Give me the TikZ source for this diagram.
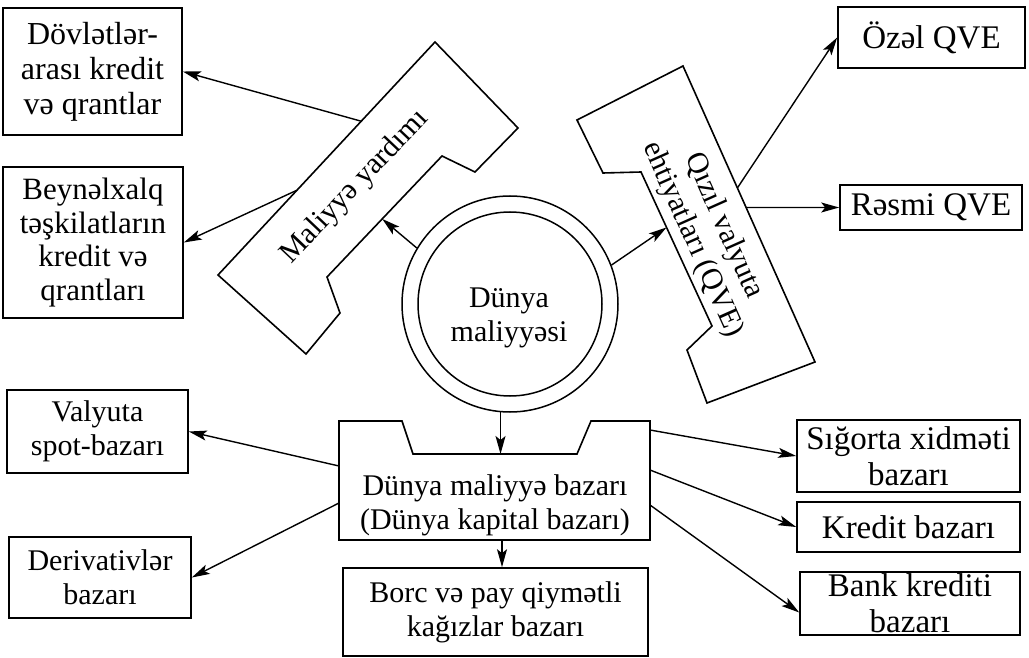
\documentclass[tikz,border=0pt]{standalone}
\usepackage{fontspec}
\setmainfont{Liberation Serif}
\usetikzlibrary{arrows.meta,calc}
\begin{document}
\begin{tikzpicture}[x=1pt,y=-1pt,
  every node/.style={font=\fontsize{30}{34}\selectfont},
  big/.style={font=\fontsize{33}{36}\selectfont},
  mid/.style={font=\fontsize{32}{35}\selectfont},
  box/.style={draw,line width=1.6pt,align=center,inner sep=0pt},
  outline/.style={draw,line width=1.6pt},
  ring/.style={draw,circle,line width=1.5pt,inner sep=0pt},
  txt/.style={align=center,inner sep=0pt},
  link/.style={line width=1.4pt,-{Stealth[length=18pt,width=10pt,inset=4pt]}}]
\useasboundingbox (0,0) rectangle (1029,658);

% outer boxes
\node[box,mid,minimum width=179pt,minimum height=127pt] (b1) at (92.5,71.5) {Dövlətlər-\\arası kredit\\və qrantlar};
\node[box,font=\fontsize{31}{33.5}\selectfont,minimum width=180pt,minimum height=151pt] (b2) at (93,242.5) {Beynəlxalq\\təşkilatların\\kredit və\\qrantları};
\node[box,minimum width=181pt,minimum height=83pt] (valyuta) at (97.5,431.5) {Valyuta\\spot-bazarı};
\node[box,minimum width=182pt,minimum height=81pt] (deriv) at (100,577.5) {Derivativlər\\bazarı};
\node[box,minimum width=305pt,minimum height=88pt] (borc) at (495.5,612) {Borc və pay qiymətli\\kağızlar bazarı};
\node[box,big,minimum width=187pt,minimum height=61pt] (ozel) at (931.5,37.5) {Özəl QVE};
\node[box,big,minimum width=182pt,minimum height=45pt] (rasmi) at (931,207.5) {Rəsmi QVE};
\node[box,big,minimum width=223pt,minimum height=72pt] (sigorta) at (908.5,456) {Sığorta xidməti\\bazarı};
\node[box,big,minimum width=223pt,minimum height=50pt] (kredit) at (908.5,527) {Kredit bazarı};
\node[box,big,minimum width=220pt,minimum height=63pt] (bank) at (910,603.5) {Bank krediti\\bazarı};

% central double ring
\node[ring,minimum size=216pt] (outer) at (510,304) {};
\node[ring,minimum size=184pt] (inner) at (510,304) {};
\node[txt] (dm) at (509,318) {Dünya\\maliyyəsi};

% financial aid bracket
\coordinate (mA) at (435,42);
\coordinate (mB) at (518,128);
\coordinate (mC) at (475,172);
\coordinate (mD) at (442,156);
\coordinate (mE) at (327,277);
\coordinate (mF) at (340,313);
\coordinate (mG) at (306,354);
\coordinate (mH) at (218,275);
\draw[outline] (mA) -- (mB) -- (mC) -- (mD) -- (mE) -- (mF) -- (mG) -- (mH) -- cycle;
\node[txt,rotate=46.5] (my) at (355,187) {Maliyyə yardımı};

% gold and currency reserves bracket
\coordinate (qA) at (683,66);
\coordinate (qB) at (577,120);
\coordinate (qC) at (603,173);
\coordinate (qD) at (641,172);
\coordinate (qE) at (712,326);
\coordinate (qF) at (687,350);
\coordinate (qG) at (707,403);
\coordinate (qH) at (815,362);
\draw[outline] (qA) -- (qB) -- (qC) -- (qD) -- (qE) -- (qF) -- (qG) -- (qH) -- cycle;
\node[txt,rotate=-66] (qv) at (708,233) {Qızıl valyuta\\ehtiyatları (QVE)};

% world financial market block
\coordinate (fA) at (339,421);
\coordinate (fB) at (402,421);
\coordinate (fC) at (413,454);
\coordinate (fD) at (577,454);
\coordinate (fE) at (591,421);
\coordinate (fF) at (650,421);
\coordinate (fG) at (650,540);
\coordinate (fH) at (339,540);
\draw[outline] (fA) -- (fB) -- (fC) -- (fD) -- (fE) -- (fF) -- (fG) -- (fH) -- cycle;
\node[txt] (fm) at (495,505) {Dünya maliyyə bazarı\\(Dünya kapital bazarı)};

% connector end points on the brackets
\coordinate (ml1) at ($(mH)!0.66!(mA)$);
\coordinate (ml2) at ($(mH)!0.364!(mA)$);
\coordinate (mi) at ($(mD)!0.52!(mE)$);
\coordinate (qo1) at ($(qA)!0.412!(qH)$);
\coordinate (qo2) at ($(qA)!0.478!(qH)$);
\coordinate (qi) at ($(qD)!0.36!(qE)$);
\coordinate (fb) at (502,540);
\coordinate (fr1) at (650,430);
\coordinate (fr2) at (650,470);
\coordinate (fr3) at (650,505);
\coordinate (fl1) at (339,466);
\coordinate (fl2) at (339,503);

% connectors
\draw[link] (ml1) -- (b1.east);
\draw[link] (ml2) -- (b2.east);
\draw[link] (outer.149.5) -- (mi);
\draw[link] (outer.21.7) -- (qi);
\draw[link] (qo1) -- (ozel.west);
\draw[link] (qo2) -- (rasmi.west);
\draw[link] (outer.-95) -- (outer.-95 |- fC);
\draw[link] (fb) -- (fb |- borc.north);
\draw[link] (fl1) -- (valyuta.east);
\draw[link] (fl2) -- (deriv.east);
\draw[link] (fr1) -- (sigorta.west);
\draw[link] (fr2) -- (kredit.west);
\draw[link] (fr3) -- ([yshift=-9pt]bank.west);
\end{tikzpicture}
\end{document}
